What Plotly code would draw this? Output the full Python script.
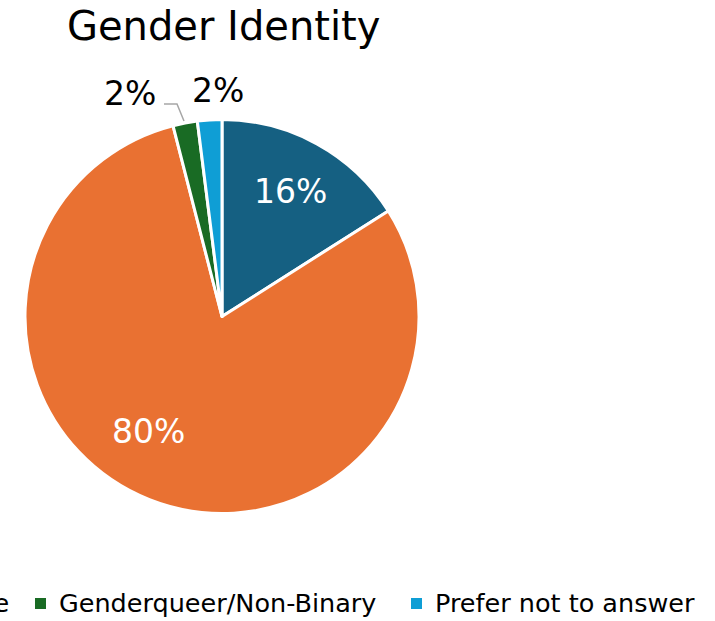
import plotly.graph_objects as go

W, H = 715, 621

title = "Gender Identity"
categories = ["Male", "Female", "Genderqueer/Non-Binary", "Prefer not to answer"]
values = [16, 80, 2, 2]
colors = ["#156082", "#E97132", "#196B24", "#0F9ED5"]

total = sum(values)
pct_labels = [f"{round(v / total * 100)}%" for v in values]

def px(x):
    return x / W

def py(y):
    return 1 - y / H

FONT = "DejaVu Sans, Liberation Sans, Arial, sans-serif"

fig = go.Figure()
fig.add_trace(go.Pie(
    labels=categories,
    values=values,
    sort=False,
    direction="clockwise",
    rotation=0,
    marker=dict(colors=colors, line=dict(color="white", width=3)),
    textinfo="none",
    domain=dict(x=[px(25), px(419)], y=[py(514), py(119)]),
    showlegend=False,
    hoverinfo="label+percent",
))

annotations = [
    dict(text=title, x=px(223), y=py(26), xref="paper", yref="paper",
         xanchor="center", yanchor="middle", showarrow=False,
         font=dict(size=40, color="black", family=FONT)),
]

# data labels: (x, y, colour) per slice
label_pos = [(290, 191, "white"), (148, 431, "white"), (130, 93, "black"), (218, 91, "black")]
for lab, (lx, ly, lc) in zip(pct_labels, label_pos):
    annotations.append(dict(text=lab, x=px(lx), y=py(ly), xref="paper", yref="paper",
                            xanchor="center", yanchor="middle", showarrow=False,
                            font=dict(size=33, color=lc, family=FONT)))

shapes = [
    dict(type="path", xref="paper", yref="paper",
         path=f"M {px(164)} {py(104)} L {px(177)} {py(104)} L {px(184)} {py(121)}",
         line=dict(color="#A6A6A6", width=1.5)),
]

# legend (drawn manually so it can run off the left edge as in the reference)
legend_text_x = [-220, -83, 59, 435]
for name, col, tx in zip(categories, colors, legend_text_x):
    shapes.append(dict(type="rect", xref="paper", yref="paper",
                       x0=px(tx - 24), x1=px(tx - 13), y0=py(609), y1=py(598),
                       fillcolor=col, line=dict(width=0)))
    annotations.append(dict(text=name, x=px(tx - 2), y=py(603), xref="paper", yref="paper",
                            xanchor="left", yanchor="middle", showarrow=False,
                            font=dict(size=25.5, color="black", family=FONT)))

fig.update_layout(
    width=W, height=H,
    margin=dict(l=0, r=0, t=0, b=0),
    paper_bgcolor="white",
    plot_bgcolor="white",
    annotations=annotations,
    shapes=shapes,
    showlegend=False,
)

fig.write_html("out.html", config={"displayModeBar": False},
               post_script="document.body.style.margin='0px';")
